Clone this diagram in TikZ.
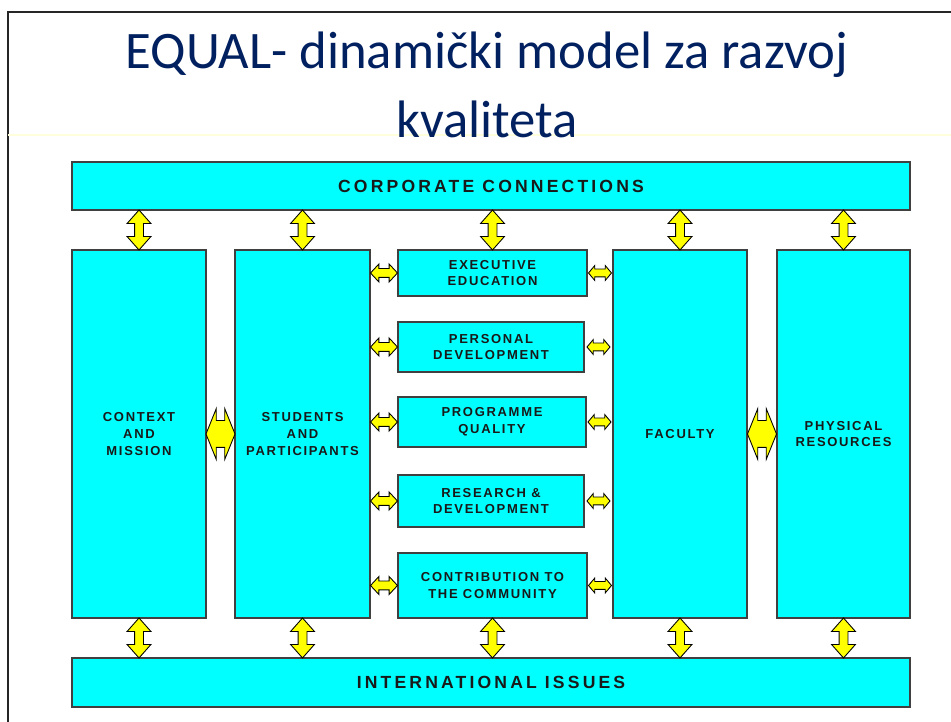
\documentclass[tikz,border=0pt]{standalone}
\usepackage{fontspec}
\usepackage[x11names, rgb]{xcolor}
\usepackage{tikz}
\usetikzlibrary{shapes,arrows,calc}
\setmainfont{Liberation Sans}
\newfontfamily\titlefont{Carlito}
\newfontfamily\boxfont[LetterSpace=13]{Liberation Sans}
\newfontfamily\bandfont[LetterSpace=18]{Liberation Sans}
\definecolor{boxcyan}{HTML}{00FFFF}
\definecolor{boxline}{HTML}{404040}
\definecolor{arrowyellow}{HTML}{FFFF00}
\definecolor{titleblue}{HTML}{002060}
\definecolor{ruleyellow}{HTML}{FFFFDC}

\begin{document}
\begin{tikzpicture}[x=0.02cm, y=-0.02cm]
    \tikzstyle{every node}+=[inner sep=0pt]
    \tikzstyle{unitbox}=[draw=boxline, fill=boxcyan, line width=0.8pt, align=center, text=black!90, font=\boxfont\bfseries\fontsize{7.4}{9.6}\selectfont]
    \tikzstyle{bandbox}=[unitbox, minimum width=16.76cm, font=\bandfont\bfseries\fontsize{10}{12}\selectfont]
    \tikzstyle{colbox}=[unitbox, minimum height=7.36cm]
    \tikzstyle{arrowbox}=[double arrow, draw=black, fill=arrowyellow, line width=0.5pt, inner xsep=0pt]
    \tikzstyle{vlink}=[arrowbox, rotate=90, minimum height=0.8cm, inner ysep=0.08cm, double arrow head extend=0.15cm, double arrow tip angle=83]
    \tikzstyle{hlink}=[arrowbox, minimum height=0.54cm, inner ysep=0.08cm, double arrow head extend=0.09cm, double arrow tip angle=94]
    \tikzstyle{rlink}=[arrowbox, minimum height=0.46cm, inner ysep=0.07cm, double arrow head extend=0.07cm, double arrow tip angle=100]
    \tikzstyle{wlink}=[arrowbox, minimum height=0.58cm, inner ysep=0.26cm, double arrow head extend=0.24cm, double arrow tip angle=136]
    \useasboundingbox (0,0) rectangle (951,722);
    \draw [black!85, line width=1.2pt] (8,722) -- (8,12) -- (951,12);
    \draw [ruleyellow, line width=0.6pt] (8,135) -- (951,135);
    \node (title1) [anchor=base, text=titleblue, font=\titlefont\fontsize{30}{36}\selectfont] at (487,69) {EQUAL- dinami\v{c}ki model za razvoj};
    \node (title2) [anchor=base, text=titleblue, font=\titlefont\fontsize{30}{36}\selectfont] at (487,138) {kvaliteta};
    \node (corp) [bandbox, minimum height=0.96cm] at (491,186) {CORPORATE CONNECTIONS};
    \node (intl) [bandbox, minimum height=0.98cm] at (491,682.5) {INTERNATIONAL ISSUES};
    \node (ctx) [colbox, minimum width=2.68cm] at (139,434) {CONTEXT\\AND\\MISSION};
    \node (stud) [colbox, minimum width=2.70cm] at (302.5,434) {STUDENTS\\AND\\PARTICIPANTS};
    \node (fac) [colbox, minimum width=2.68cm] at (680,434) {FACULTY};
    \node (phys) [colbox, minimum width=2.66cm] at (843.5,434) {PHYSICAL\\RESOURCES};
    \node (exec) [unitbox, minimum width=3.78cm, minimum height=0.92cm] at (492.5,273) {EXECUTIVE\\EDUCATION};
    \node (pers) [unitbox, minimum width=3.72cm, minimum height=1.0cm] at (491,347) {PERSONAL\\DEVELOPMENT};
    \node (prog) [unitbox, minimum width=3.76cm, minimum height=1.0cm] at (492,422) {PROGRAMME\\QUALITY};
    \node (res) [unitbox, minimum width=3.72cm, minimum height=1.04cm] at (491,501) {RESEARCH \&\\DEVELOPMENT};
    \node (contr) [unitbox, minimum width=3.78cm, minimum height=1.30cm] at (492.5,585.5) {CONTRIBUTION TO\\THE COMMUNITY};
    \foreach \c in {ctx,stud,exec,fac,phys}
        \node (up-\c) [vlink] at ($(corp.south -| \c.north)!0.5!(\c.north)$) {};
    \foreach \c in {ctx,stud,contr,fac,phys}
        \node (down-\c) [vlink] at ($(\c.south)!0.5!(intl.north -| \c.south)$) {};
    \foreach \u in {exec,pers,prog,res,contr} {
        \node (in-\u) [hlink] at ($(stud.east |- \u.west)!0.5!(\u.west)$) {};
        \node (out-\u) [rlink] at ($(\u.east)!0.5!(fac.west |- \u.east)$) {};
    }
    \node (wide-left) [wlink] at ($(ctx.east)!0.5!(stud.west)$) {};
    \node (wide-right) [wlink] at ($(fac.east)!0.5!(phys.west)$) {};
\end{tikzpicture}
\end{document}
